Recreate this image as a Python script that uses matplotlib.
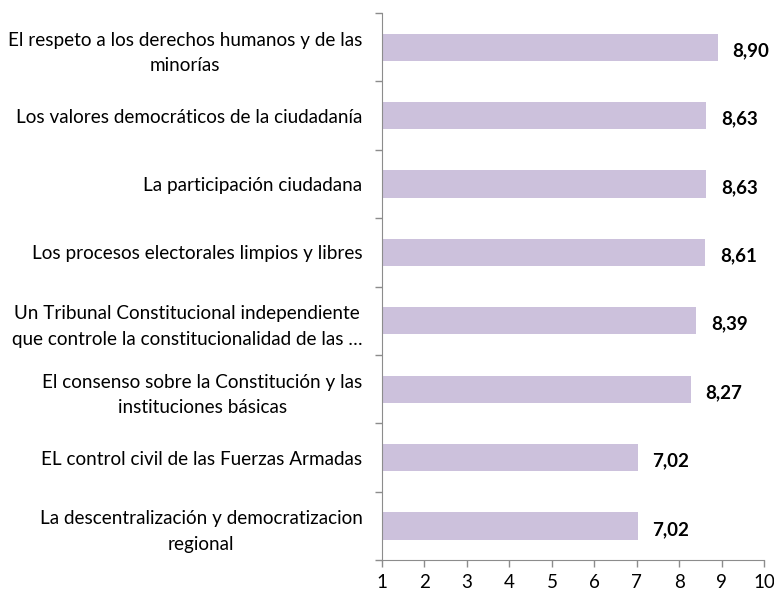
import numpy as np
import matplotlib.pyplot as plt
from matplotlib.ticker import FixedLocator

plt.rcParams['font.family'] = ['Lato', 'DejaVu Sans']

# categorías (de arriba a abajo) y valores
categorias = [
    "El respeto a los derechos humanos y de las\nminorías",
    "Los valores democráticos de la ciudadanía",
    "La participación ciudadana",
    "Los procesos electorales limpios y libres",
    "Un Tribunal Constitucional independiente\nque controle la constitucionalidad de las \u2026",
    "El consenso sobre la Constitución y las\ninstituciones básicas",
    "EL control civil de las Fuerzas Armadas",
    "La descentralización y democratizacion\nregional",
]
valores = [8.90, 8.63, 8.63, 8.61, 8.39, 8.27, 7.02, 7.02]
xticks = [1, 2, 3, 4, 5, 6, 7, 8, 9, 10]

color_barra = '#CCC1DC'
color_eje = '#8C8C8C'

fig = plt.figure(figsize=(7.74, 5.94), dpi=100)
ax = fig.add_axes([0.4935, 0.057, 0.494, 0.921])

y = np.arange(len(categorias))[::-1]
ax.barh(y, valores, height=0.4, color=color_barra)

for yi, v in zip(y, valores):
    ax.text(v + 0.35, yi - 0.05, f"{v:.2f}".replace('.', ','), va='center', ha='left',
            fontsize=13.5, fontweight='bold', color='black')

ax.set_xlim(1, 10)
ax.set_ylim(-0.5, len(categorias) - 0.5)
ax.set_xticks(xticks)
ax.set_xticklabels([str(t) for t in xticks], fontsize=13.5)
ax.set_yticks(y)
ax.set_yticklabels(categorias, fontsize=13.6)
for lab in ax.get_yticklabels():
    lab.set_multialignment('center')
    lab.set_linespacing(1.6)
ax.yaxis.set_minor_locator(FixedLocator(np.arange(-0.5, len(categorias), 1)))

ax.tick_params(axis='y', which='major', length=0, pad=14)
ax.tick_params(axis='y', which='minor', length=5, color=color_eje, width=1)
ax.tick_params(axis='x', which='major', length=5, color=color_eje, width=1, pad=5)

for s in ['top', 'right']:
    ax.spines[s].set_visible(False)
for s in ['left', 'bottom']:
    ax.spines[s].set_color(color_eje)

fig.savefig('out.png', dpi=100)
